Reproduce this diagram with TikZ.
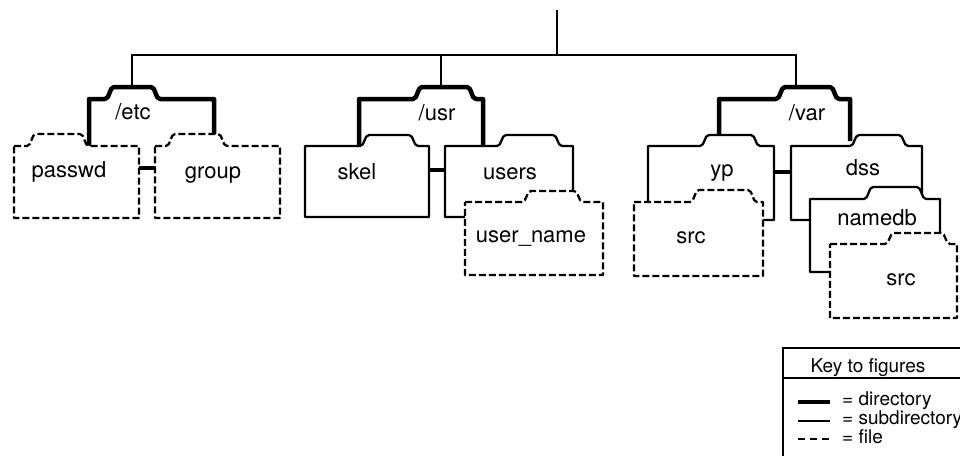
\documentclass[tikz,border=0pt]{standalone}
\usepackage{fontspec}
\setmainfont{TeX Gyre Heros}
\tikzset{
  dirline/.style={line width=4.5pt},
  subline/.style={line width=2.3pt},
  fileline/.style={line width=2.3pt, dash pattern=on 7pt off 3pt},
  conn/.style={line width=2pt},
  lbl/.style={font=\fontsize{22}{24}\selectfont, anchor=base, inner sep=0pt},
  keyhead/.style={font=\fontsize{19}{21}\selectfont, anchor=base, inner sep=0pt},
  keytxt/.style={font=\fontsize{19}{21}\selectfont, anchor=base west, inner sep=0pt},
}
% closed folder: style, L, R, top, bottom, tab-left, tab-right, tab-top
\newcommand{\fldr}[8]{%
  \draw[#1, fill=white, line join=round] (#2,#4) -- (#6,#4)
    .. controls ({#6+5},#4) and ({#6+4},#8) .. ({#6+9},#8) -- ({#7-9},#8)
    .. controls ({#7-4},#8) and ({#7-5},#4) .. (#7,#4) -- (#3,#4) -- (#3,#5) -- (#2,#5) -- cycle;}
% open directory folder: L, R, top, bottom-left, bottom-right, tab-left, tab-right, tab-top
\newcommand{\dirfldr}[8]{%
  \draw[dirline, line join=round] (#1,#4) -- (#1,#3) -- (#6,#3)
    .. controls ({#6+5},#3) and ({#6+4},#8) .. ({#6+9},#8) -- ({#7-9},#8)
    .. controls ({#7-4},#8) and ({#7-5},#3) .. (#7,#3) -- (#2,#3) -- (#2,#5);}
\begin{document}
\begin{tikzpicture}[x=1pt,y=-1pt]
\useasboundingbox (0,0) rectangle (960,455);
\clip (0,0) rectangle (960,455);
\fill[white] (0,0) rectangle (960,455);

% root connectors
\coordinate (rootTop) at (557,10);
\coordinate (bar) at (557,55);
\coordinate (etc-in) at (132,87);
\coordinate (usr-in) at (441,87);
\coordinate (var-in) at (796,87);
\draw[conn] (rootTop) -- (bar);
\draw[conn] (etc-in) -- (etc-in |- bar) -- (var-in |- bar) -- (var-in);
\draw[conn] (usr-in) -- (usr-in |- bar);

% /etc
\dirfldr{89}{214}{99}{146}{134}{105}{160}{87}
\fldr{fileline}{14}{139}{146}{218}{27}{89}{134}
\fldr{fileline}{155}{280}{146}{218}{166}{227}{134}
\coordinate (passwd-e) at (139,168);
\coordinate (group-w) at (155,168);
\draw[dirline] (passwd-e) -- (group-w);

% /usr
\dirfldr{359}{483}{99}{146}{146}{413}{476}{87}
\fldr{subline}{305}{429}{146}{217}{360}{418}{135}
\fldr{subline}{445}{573}{146}{217}{497}{562}{135}
\fldr{fileline}{465}{603}{202}{275}{522}{583}{191}
\coordinate (skel-e) at (429,170);
\coordinate (users-w) at (445,170);
\draw[dirline] (skel-e) -- (users-w);

% /var
\dirfldr{719}{850}{99}{135}{141}{776}{839}{87}
\fldr{subline}{648}{774}{146}{220}{700}{760}{135}
\fldr{fileline}{634}{763}{202}{276}{690}{757}{190}
\fldr{subline}{791}{922}{146}{220}{850}{908}{135}
\fldr{subline}{810}{940}{199}{272}{864}{926}{187}
\fldr{fileline}{830}{957}{244}{318}{885}{950}{233}
\coordinate (yp-e) at (774,172);
\coordinate (dss-w) at (791,172);
\draw[dirline] (yp-e) -- (dss-w);

% labels
\node[lbl] (etc) at (133,119) {/etc};
\node[lbl] (passwd) at (69,177) {passwd};
\node[lbl] (group) at (213,178) {group};
\node[lbl] (usr) at (437,120) {/usr};
\node[lbl] (skel) at (357,179) {skel};
\node[lbl] (users) at (510,179) {users};
\node[lbl] (username) at (531,242) {user\_name};
\node[lbl] (var) at (807,120) {/var};
\node[lbl] (yp) at (722,176) {yp};
\node[lbl] (dss) at (863,175) {dss};
\node[lbl] (src1) at (691,243) {src};
\node[lbl] (namedb) at (877,225) {namedb};
\node[lbl] (src2) at (901,285) {src};

% key
\draw[subline] (783,348) rectangle (975,470);
\draw[subline] (783,378) -- (975,378);
\node[keyhead] (keyhead) at (868,372) {Key to figures};
\coordinate (k1a) at (798,402); \coordinate (k1b) at (830,402);
\coordinate (k2a) at (798,421); \coordinate (k2b) at (830,421);
\coordinate (k3a) at (798,439); \coordinate (k3b) at (830,439);
\draw[dirline] (k1a) -- (k1b);
\draw[subline] (k2a) -- (k2b);
\draw[line width=2.3pt, dash pattern=on 7pt off 5pt] (k3a) -- (k3b);
\node[keytxt] (kdir) at (842,405) {= directory};
\node[keytxt] (ksub) at (842,424) {= subdirectory};
\node[keytxt] (kfile) at (842,443) {= file};
\end{tikzpicture}
\end{document}
